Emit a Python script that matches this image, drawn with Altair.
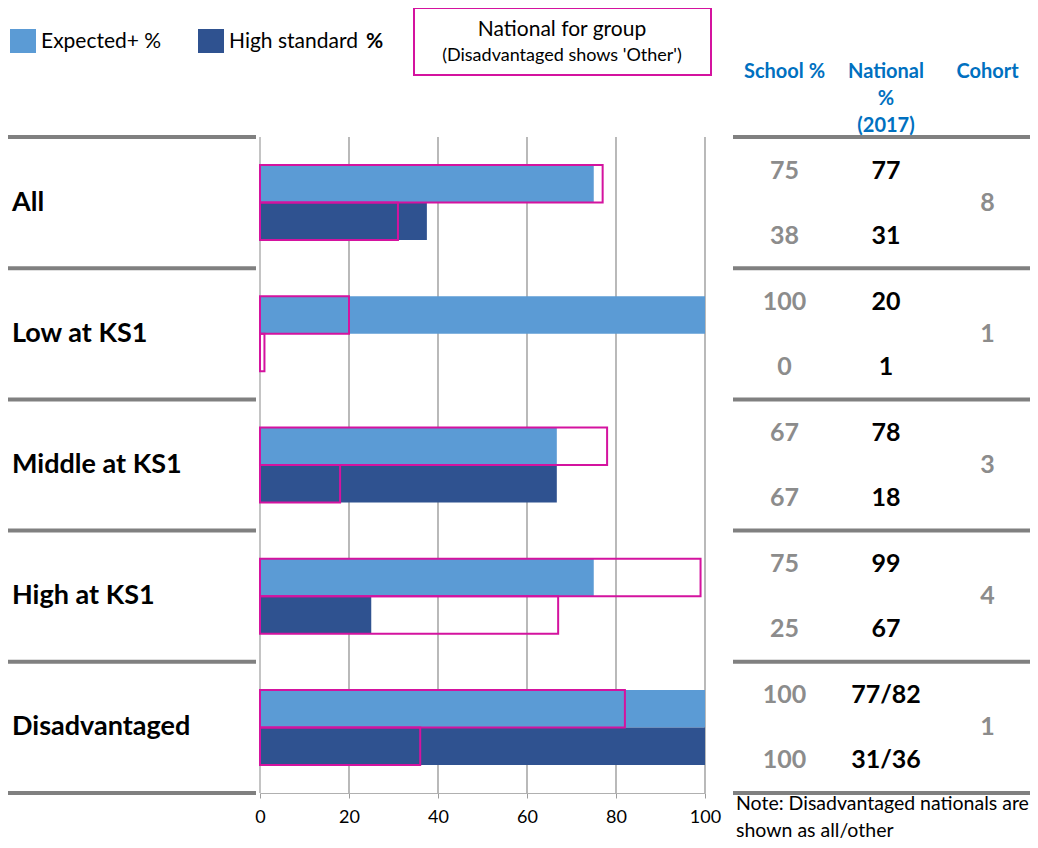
import altair as alt
import pandas as pd

# ---------------- data ----------------
groups = ["All", "Low at KS1", "Middle at KS1", "High at KS1", "Disadvantaged"]
series = ["Expected+ %", "High standard %"]
school_expected = [75, 100, 66.7, 75, 100]
school_high = [37.5, 0, 66.7, 25, 100]
national_expected = [77, 20, 78, 99, 82]
national_high = [31, 1, 18, 67, 36]
school_expected_label = ["75", "100", "67", "75", "100"]
school_high_label = ["38", "0", "67", "25", "100"]
national_expected_label = ["77", "20", "78", "99", "77/82"]
national_high_label = ["31", "1", "18", "67", "31/36"]
cohort_label = ["8", "1", "3", "4", "1"]
columns = ["School %", "National % (2017)", "Cohort"]
column_headers = ["School %", "National\n%\n(2017)", "Cohort"]
x_ticks = [0, 20, 40, 60, 80, 100]
legend_texts = ["Expected+ %", "High standard ", "%"]
legend_national = ["National for group", "(Disadvantaged shows 'Other')"]
note_text = ["Note: Disadvantaged nationals are\nshown as all/other"]

# ---------------- tables ----------------
bars_df = pd.DataFrame(
    [
        {"group": g, "series": s, "school": sv, "national": nv}
        for i, g in enumerate(groups)
        for s, sv, nv in [
            (series[0], school_expected[i], national_expected[i]),
            (series[1], school_high[i], national_high[i]),
        ]
    ]
)
table_rows = []
for i, g in enumerate(groups):
    table_rows.append({"group": g, "column": columns[0], "level": "top", "label": school_expected_label[i]})
    table_rows.append({"group": g, "column": columns[0], "level": "bottom", "label": school_high_label[i]})
    table_rows.append({"group": g, "column": columns[1], "level": "top", "label": national_expected_label[i]})
    table_rows.append({"group": g, "column": columns[1], "level": "bottom", "label": national_high_label[i]})
    table_rows.append({"group": g, "column": columns[2], "level": "middle", "label": cohort_label[i]})
table_df = pd.DataFrame(table_rows)
header_df = pd.DataFrame({"column": columns, "header": column_headers})
ticks_df = pd.DataFrame({"tick": x_ticks})
groups_df = pd.DataFrame({"group": groups})
one_df = pd.DataFrame({"k": [0]})

# ---------------- style ----------------
FONT = "Lato"
LIGHT = "#5B9BD5"
DARK = "#2F5290"
MAGENTA = "#D4139F"
SEP = "#808080"
GREY_TXT = "#8C8C8C"
BLUE_TXT = "#0070C0"
W, H = 1022, 785

y_scale = alt.Scale(domain=groups, range=[129, 785], paddingInner=0, paddingOuter=0)
yoff_scale = alt.Scale(domain=series, paddingInner=0, paddingOuter=0.75)
x_scale = alt.Scale(domain=[0, 100], range=[252, 697], nice=False)
col_scale = alt.Scale(domain=columns, range=[776.5, 979.5], padding=0)

Y = alt.Y("group:N", scale=y_scale, axis=None)

x_axis = alt.Axis(
    values=x_ticks,
    title=None,
    grid=False,
    domainColor="#B0B0B0",
    domainWidth=1,
    tickColor="#9C9C9C",
    tickSize=5,
    labelFont=FONT,
    labelFontSize=18,
    labelColor="#000000",
    labelPadding=10,
    labelFlush=False,
)

# ---------------- bar panel ----------------
grid = alt.Chart(ticks_df).mark_rule().encode(
    x=alt.X("tick:Q", scale=x_scale, axis=x_axis),
    y=alt.value(129),
    y2=alt.value(785),
    color=alt.condition("datum.tick == 0", alt.value("#C4C4C4"), alt.value("#9C9C9C")),
    strokeWidth=alt.condition("datum.tick == 0", alt.value(2), alt.value(1.4)),
)

bars = alt.Chart(bars_df).mark_bar(cornerRadius=0).encode(
    x=alt.X("school:Q", scale=x_scale, axis=x_axis),
    y=Y,
    yOffset=alt.YOffset("series:N", scale=yoff_scale),
    color=alt.Color("series:N", scale=alt.Scale(domain=series, range=[LIGHT, DARK]), legend=None),
)

outlines = alt.Chart(bars_df).mark_bar(fillOpacity=0, stroke=MAGENTA, strokeWidth=2).encode(
    x=alt.X("national:Q", scale=x_scale, axis=x_axis),
    y=Y,
    yOffset=alt.YOffset("series:N", scale=yoff_scale),
)

bar_panel = alt.layer(grid, bars, outlines)

# ---------------- table panel ----------------
XC = alt.X("column:N", scale=col_scale, axis=None)
base_tab = alt.Chart(table_df).encode(x=XC, y=Y, text="label:N")
num_style = dict(font=FONT, fontSize=25, fontWeight="bold", align="center", baseline="middle")

school_top = base_tab.transform_filter(
    f"datum.column == '{columns[0]}' && datum.level == 'top'").mark_text(color=GREY_TXT, dy=-32, **num_style)
school_bot = base_tab.transform_filter(
    f"datum.column == '{columns[0]}' && datum.level == 'bottom'").mark_text(color=GREY_TXT, dy=33, **num_style)
nat_top = base_tab.transform_filter(
    f"datum.column == '{columns[1]}' && datum.level == 'top'").mark_text(color="#000000", dy=-32, **num_style)
nat_bot = base_tab.transform_filter(
    f"datum.column == '{columns[1]}' && datum.level == 'bottom'").mark_text(color="#000000", dy=33, **num_style)
coh = base_tab.transform_filter(
    f"datum.column == '{columns[2]}'").mark_text(color=GREY_TXT, dy=0, **num_style)

headers = alt.Chart(header_df).mark_text(
    font=FONT, fontSize=20, fontWeight="bold", color=BLUE_TXT, align="center",
    baseline="middle", lineBreak="\n", lineHeight=27,
).encode(x=XC, y=alt.value(64), text="header:N")

table_panel = alt.layer(headers, school_top, school_bot, nat_top, nat_bot, coh)

# ---------------- left labels & separators ----------------
labels = alt.Chart(groups_df).mark_text(
    font=FONT, fontSize=27, fontWeight="bold", color="#000000", align="left", baseline="middle"
).encode(x=alt.value(4), y=Y, text="group:N")

sep_style = dict(color=SEP, strokeWidth=4)
sep_top_left = alt.Chart(groups_df).mark_rule(**sep_style).encode(
    y=alt.Y("group:N", scale=y_scale, axis=None, bandPosition=0), x=alt.value(-2), x2=alt.value(248))
sep_top_right = alt.Chart(groups_df).mark_rule(**sep_style).encode(
    y=alt.Y("group:N", scale=y_scale, axis=None, bandPosition=0), x=alt.value(725), x2=alt.value(W))
sep_bot_left = alt.Chart(one_df).mark_rule(**sep_style).encode(
    y=alt.value(785), x=alt.value(-2), x2=alt.value(248))
sep_bot_right = alt.Chart(one_df).mark_rule(**sep_style).encode(
    y=alt.value(785), x=alt.value(725), x2=alt.value(W))

# ---------------- legend (manual) ----------------
sw1 = alt.Chart(one_df).mark_rect(color=LIGHT).encode(
    x=alt.value(2), x2=alt.value(28), y=alt.value(21), y2=alt.value(45))
sw2 = alt.Chart(one_df).mark_rect(color=DARK).encode(
    x=alt.value(190), x2=alt.value(216), y=alt.value(21), y2=alt.value(45))
leg_style = dict(font=FONT, fontSize=21, color="#000000", align="left", baseline="middle")
lt1 = alt.Chart(pd.DataFrame({"t": [legend_texts[0]]})).mark_text(**leg_style).encode(
    x=alt.value(33), y=alt.value(34), text="t:N")
lt2 = alt.Chart(pd.DataFrame({"t": [legend_texts[1]]})).mark_text(**leg_style).encode(
    x=alt.value(221), y=alt.value(34), text="t:N")
lt3 = alt.Chart(pd.DataFrame({"t": [legend_texts[2]]})).mark_text(
    font=FONT, fontSize=21, fontWeight="bold", color="#000000", align="left", baseline="middle").encode(
    x=alt.value(358), y=alt.value(34), text="t:N")
nat_box = alt.Chart(one_df).mark_rect(fill="#FFFFFF", stroke=MAGENTA, strokeWidth=2).encode(
    x=alt.value(406), x2=alt.value(703), y=alt.value(0), y2=alt.value(67))
nat_t1 = alt.Chart(pd.DataFrame({"t": [legend_national[0]]})).mark_text(
    font=FONT, fontSize=21, color="#000000", align="center", baseline="middle").encode(
    x=alt.value(554), y=alt.value(22), text="t:N")
nat_t2 = alt.Chart(pd.DataFrame({"t": [legend_national[1]]})).mark_text(
    font=FONT, fontSize=18, color="#000000", align="center", baseline="middle").encode(
    x=alt.value(554), y=alt.value(48), text="t:N")

note = alt.Chart(pd.DataFrame({"t": note_text})).mark_text(
    font=FONT, fontSize=19.5, color="#000000", align="left", baseline="middle",
    lineBreak="\n", lineHeight=27).encode(x=alt.value(728), y=alt.value(796), text="t:N")

chart = alt.layer(
    bar_panel, table_panel, labels,
    sep_top_left, sep_top_right, sep_bot_left, sep_bot_right,
    sw1, sw2, lt1, lt2, lt3, nat_box, nat_t1, nat_t2, note,
).resolve_scale(x="independent").properties(
    width=W, height=H,
    padding={"left": 0, "top": 0, "right": 0, "bottom": 47},
    autosize=alt.AutoSizeParams(type="none"),
    background="#FFFFFF",
).configure_view(stroke=None)

chart.save("out.html", embed_options={"renderer": "svg", "actions": False})
